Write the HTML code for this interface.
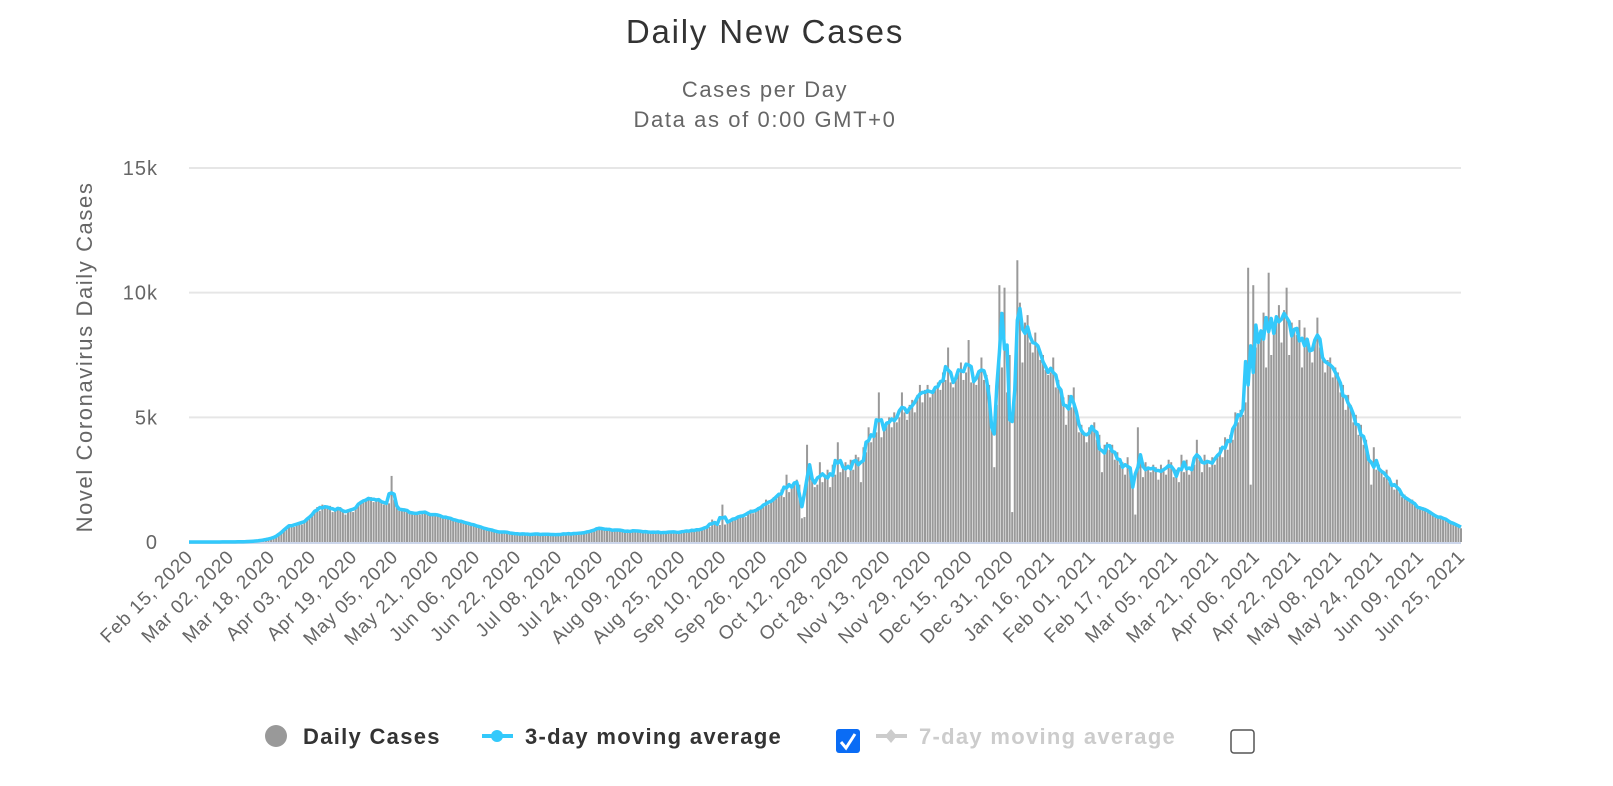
<!DOCTYPE html>
<html><head><meta charset="utf-8">
<style>
html,body{margin:0;padding:0;background:#fff;}
svg{display:block;font-family:"Liberation Sans",sans-serif;}
</style></head>
<body>
<svg id="chart" width="1613" height="786" viewBox="0 0 1613 786" xmlns="http://www.w3.org/2000/svg">
<text x="765" y="43" text-anchor="middle" font-size="33" letter-spacing="1.8" fill="#333">Daily New Cases</text>
<text x="765" y="97" text-anchor="middle" font-size="22" letter-spacing="1.6" fill="#666">Cases per Day</text>
<text x="765" y="127" text-anchor="middle" font-size="22" letter-spacing="1.6" fill="#666">Data as of 0:00 GMT+0</text>
<text transform="translate(92,357) rotate(-90)" text-anchor="middle" font-size="22" letter-spacing="1.6" fill="#666">Novel Coronavirus Daily Cases</text>
<g id="grid"></g><g id="bars"></g><g id="line"></g><g id="xlabels"></g>
<g>
 <g>
  <circle cx="276" cy="736" r="11" fill="#999"/>
  <text x="303" y="744" font-size="22" letter-spacing="1.3" font-weight="bold" fill="#333">Daily Cases</text>
 </g>
 <g>
  <line x1="482" y1="736" x2="513" y2="736" stroke="#33c9fb" stroke-width="4"/>
  <circle cx="497" cy="736" r="6" fill="#33c9fb"/>
  <text x="525" y="744" font-size="22" letter-spacing="1.3" font-weight="bold" fill="#333">3-day moving average</text>
 </g>
 <g>
  <rect x="836" y="729" width="24" height="24" rx="3" fill="#0a6cf5"/>
  <path d="M841 742 L846 748 L855 734" stroke="#fff" stroke-width="3" fill="none"/>
 </g>
 <g>
  <line x1="876" y1="736" x2="907" y2="736" stroke="#ccc" stroke-width="4"/>
  <path d="M891 729 L897 736 L891 743 L885 736 Z" fill="#ccc"/>
  <text x="919" y="744" font-size="22" letter-spacing="1.3" font-weight="bold" fill="#ccc">7-day moving average</text>
 </g>
 <g>
  <rect x="1231" y="730" width="23" height="23" rx="3" fill="#fff" stroke="#555" stroke-width="1.5"/>
 </g>
</g>
</svg>
<script>
const yTicks = [0, 5000, 10000, 15000];
const yTickLabels = ["0", "5k", "10k", "15k"];
const xTickLabels = ["Feb 15, 2020","Mar 02, 2020","Mar 18, 2020","Apr 03, 2020","Apr 19, 2020","May 05, 2020","May 21, 2020","Jun 06, 2020","Jun 22, 2020","Jul 08, 2020","Jul 24, 2020","Aug 09, 2020","Aug 25, 2020","Sep 10, 2020","Sep 26, 2020","Oct 12, 2020","Oct 28, 2020","Nov 13, 2020","Nov 29, 2020","Dec 15, 2020","Dec 31, 2020","Jan 16, 2021","Feb 01, 2021","Feb 17, 2021","Mar 05, 2021","Mar 21, 2021","Apr 06, 2021","Apr 22, 2021","May 08, 2021","May 24, 2021","Jun 09, 2021","Jun 25, 2021"];
const dailyCases = [
0,0,0,0,1,0,2,0,1,3,2,1,4,2,5,3,
4,6,5,8,12,10,15,20,25,30,40,50,60,80,100,120,
150,180,220,300,400,450,600,650,700,600,750,800,700,850,900,1000,
1100,1200,1400,1250,1500,1350,1400,1450,1200,1350,1300,1400,1250,1100,1300,1350,
1200,1400,1500,1650,1600,1700,1750,1800,1600,1750,1700,1650,1500,1600,1550,2650,
1700,1400,1250,1300,1350,1200,1250,1100,1150,1200,1100,1250,1200,1150,1100,1050,
1150,1100,1000,1050,950,1000,950,900,850,880,800,820,780,700,750,680,
650,620,600,560,500,520,480,450,420,400,380,430,390,360,340,350,
320,330,300,350,310,290,300,340,320,300,280,350,300,290,310,300,
280,330,300,350,320,340,300,380,350,330,400,380,420,450,480,500,
620,520,480,550,500,470,450,520,480,430,460,400,450,420,480,440,
400,450,380,420,400,360,430,390,380,350,420,370,400,440,380,360,
420,450,400,480,430,500,460,520,500,550,650,600,900,700,750,680,
1500,700,800,900,850,1000,950,1050,1100,1000,1200,1300,1150,1250,1400,1350,
1400,1700,1500,1600,1800,1750,1900,2100,1800,2700,2000,2200,2400,2500,2300,950,
1000,3900,2800,2600,2200,2300,3200,2400,2600,2900,2200,3100,2700,4000,2800,3000,
3200,2600,3300,2900,3500,3400,2400,3800,3600,4600,4000,4300,4400,6000,4200,4500,
4800,5000,4600,5200,4800,5000,6000,5200,4900,5500,5700,5200,5900,6300,5600,6100,
6300,5800,6000,6200,6400,6100,6800,6500,7800,6400,6200,6600,6900,7200,6500,6800,
8100,6400,6600,6300,6800,7400,6500,6700,6300,4500,3000,5500,10300,7000,10200,6000,
7500,1200,5800,11300,9600,7200,8800,9100,8000,7600,8400,7900,7300,7500,6900,6700,
6800,7400,6200,6500,6000,5800,4700,5900,5400,6200,5100,4400,4700,4300,4000,4600,
4500,4800,4100,4300,2800,3900,4000,3700,3900,3300,3600,3100,3200,2700,3400,3000,
2500,1100,4600,3300,2600,3200,2900,2800,3100,3000,2500,3100,2900,2700,3300,3200,
2600,2900,2400,3500,2800,3300,2700,2900,3100,4100,3300,2800,3500,3200,3000,3400,
3100,3500,3800,3400,4200,3700,4300,4100,5200,4800,5300,5100,5600,11000,2300,10300,
7800,8000,8200,9200,7000,10800,7500,8600,9000,9500,8000,9300,10200,7500,8800,8500,
8300,8900,7000,8600,8000,7800,7200,8100,9000,7800,7600,6800,7300,7400,6600,7000,
6800,6000,6300,5300,5900,5500,4800,5100,4300,4700,3900,4100,3500,2300,3800,2900,
3100,2800,2600,2900,2400,2300,2100,2500,2000,1800,1900,1700,1600,1700,1500,1400,
1300,1400,1300,1200,1250,1100,1000,1050,950,1000,900,850,800,700,750,650,550
];
const NS = "http://www.w3.org/2000/svg";
const X0 = 189, X1 = 1461, Y0 = 542, Y15 = 168;
const nDays = dailyCases.length - 1;
function xScale(i){ return X0 + (X1 - X0) * i / nDays; }
function yScale(v){ return Y0 - (Y0 - Y15) * v / 15000; }
function mk(tag, attrs, parent){ const e = document.createElementNS(NS, tag); for (const k in attrs) e.setAttribute(k, attrs[k]); parent.appendChild(e); return e; }
const grid = document.getElementById('grid');
yTicks.forEach((t, k) => {
  if (t > 0) {
    const g = mk('line', {x1: X0, x2: X1, y1: yScale(t), y2: yScale(t), stroke: '#e6e6e6', 'stroke-width': 2}, grid);
    
    
  }
  const tx = mk('text', {x: 158, y: yScale(t) + 7, 'text-anchor': 'end', 'font-size': 20, 'letter-spacing': 1, fill: '#666'}, grid);
  tx.textContent = yTickLabels[k];
  
  
});
const bars = document.getElementById('bars');
const bw = 2.0;
dailyCases.forEach((v, i) => {
  const y = yScale(v);
  const r = mk('rect', {x: xScale(i) - bw / 2, y: y, width: bw, height: Math.max(0, Y0 - y), fill: '#999'}, bars);
  
  
});
const axis = mk('line', {x1: X0, x2: X1, y1: Y0 + 1, y2: Y0 + 1, stroke: '#ccd6eb', 'stroke-width': 2}, grid);


const avg = dailyCases.map((v, i) => {
  const a = dailyCases.slice(Math.max(0, i - 1), Math.min(dailyCases.length, i + 2));
  return a.reduce((s, x) => s + x, 0) / a.length;
});
let d = '';
avg.forEach((v, i) => { d += (i ? 'L' : 'M') + xScale(i).toFixed(2) + ' ' + yScale(v).toFixed(2); });
const path = mk('path', {d: d, fill: 'none', stroke: '#33c9fb', 'stroke-width': 3.5, 'stroke-linejoin': 'round'}, document.getElementById('line'));


const xl = document.getElementById('xlabels');
xTickLabels.forEach((lab, k) => {
  const x = xScale(k * 16) + 5, y = 558;
  const t = mk('text', {x: x, y: y, 'text-anchor': 'end', 'font-size': 19, 'letter-spacing': 0.8, fill: '#666', transform: 'rotate(-45 ' + x + ' ' + y + ')'}, xl);
  t.textContent = lab;
  
  
});
</script>
</body></html>
